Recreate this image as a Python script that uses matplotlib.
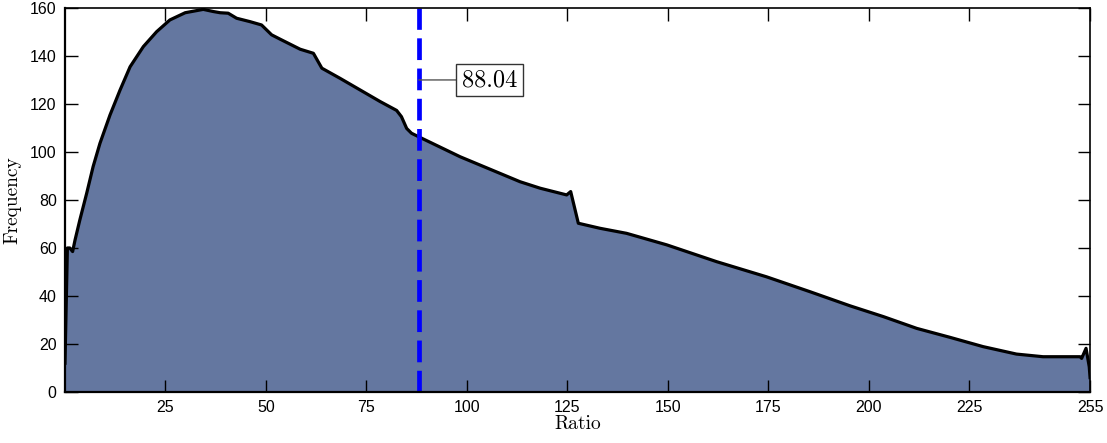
import numpy as np
import matplotlib.pyplot as plt

# ratio / frequency points
ratio = [0, 0.6, 1.2, 1.9, 2.5, 3.7, 5.4, 7.0, 8.7, 11.2, 13.7, 16.2, 19.5,
         22.8, 26.1, 29.9, 34.4, 36.9, 38.6, 40.6, 42.7, 46.0, 48.9, 51.4,
         53.5, 58.5, 61.8, 63.9, 68.4, 78.4, 82.5, 83.7, 85.0, 86.2, 87.9,
         98.3, 113.2, 118.2, 124.8, 125.8, 127.7, 133.1, 139.7, 149.7, 162.1,
         174.5, 185.3, 195.3, 203.6, 211.9, 220.1, 228.4, 236.7, 243.3,
         252.5, 252.9, 254.0, 254.8, 255]
freq = [12, 60, 60, 58.5, 63.3, 71.7, 82.8, 93.9, 103.6, 115.4, 125.8, 135.5,
        143.9, 150.1, 155, 158, 159.4, 158.5, 158, 157.8, 155.7, 154.3, 152.9,
        148.8, 147, 142.8, 141.1, 134.9, 130.7, 121, 117.3, 114.7, 109.8,
        107.8, 106.4, 98, 87.6, 84.9, 82.1, 83.5, 70.3, 68.2, 66.1, 61.3,
        54.3, 48, 41.8, 35.9, 31.4, 26.5, 22.8, 18.9, 15.8, 14.7, 14.7, 14,
        18.2, 10.5, 6]

mean_ratio = 88.04
xticks = [25, 50, 75, 100, 125, 150, 175, 200, 225, 255]
yticks = [0, 20, 40, 60, 80, 100, 120, 140, 160]

fig = plt.figure(figsize=(11.07, 4.43), dpi=100)
ax = fig.add_axes([0.0587, 0.1151, 0.926, 0.867])

ax.fill_between(ratio, freq, 0, color="#6477a0", linewidth=0)
ax.plot(ratio, freq, color="black", linewidth=2.3, solid_joinstyle="round")

ax.axvline(mean_ratio, color="#0000ff", linewidth=3.4,
           linestyle=(0, (4.6, 1.8)))

ax.annotate(
    f"{mean_ratio:.2f}",
    xy=(mean_ratio, 130),
    xytext=(105.6, 130),
    ha="center",
    va="center",
    fontsize=17.5,
    family="cmr10",
    bbox=dict(boxstyle="square,pad=0.22", fc="white", ec="#333333", lw=1),
    arrowprops=dict(arrowstyle="-", color="#555555", lw=1,
                    shrinkA=0, shrinkB=0),
)

ax.set_xlim(0, 255)
ax.set_ylim(0, 160)
ax.set_xticks(xticks)
ax.set_yticks(yticks)
ax.tick_params(direction="in", length=9, width=1, top=True, right=True,
               labelsize=11.5, pad=6)
for lbl in ax.get_xticklabels() + ax.get_yticklabels():
    lbl.set_family("Liberation Sans")

ax.set_xlabel("Ratio", family="cmr10", fontsize=14, labelpad=0)
ax.set_ylabel("Frequency", family="cmr10", fontsize=14, labelpad=6)

for side, sp in ax.spines.items():
    sp.set_linewidth(1.6 if side in ("bottom", "left") else 1.2)
    sp.set_color("black")

fig.savefig("out.png", dpi=100)
